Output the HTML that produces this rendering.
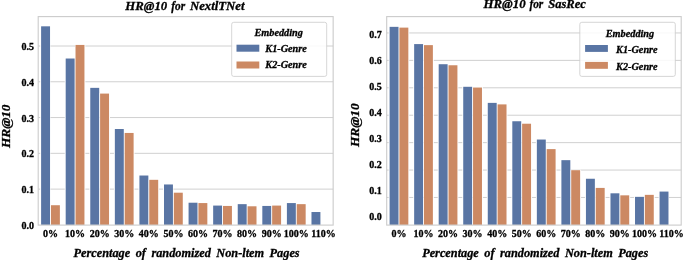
<!DOCTYPE html>
<html><head><meta charset="utf-8"><title>HR@10</title>
<style>
html,body{margin:0;padding:0;background:#fff;}
body{width:685px;height:260px;overflow:hidden;}
svg{display:block;}
text{font-family:"Liberation Serif",serif;font-weight:bold;fill:#000;stroke:#000;stroke-width:0.3px;}
.tk{font-size:10px;}
.ti{font-size:12.25px;font-style:italic;word-spacing:2.4px;}
.xl{font-size:12.3px;font-style:italic;word-spacing:2.4px;}
.lg{font-size:10.25px;font-style:italic;}
</style></head><body>
<svg width="685" height="260" viewBox="0 0 685 260">
<rect width="685" height="260" fill="#fff"/>
<line x1="38.2" x2="333.15" y1="189.12" y2="189.12" stroke="#cbcbcb" stroke-width="0.9"/>
<line x1="38.2" x2="333.15" y1="153.34" y2="153.34" stroke="#cbcbcb" stroke-width="0.9"/>
<line x1="38.2" x2="333.15" y1="117.56" y2="117.56" stroke="#cbcbcb" stroke-width="0.9"/>
<line x1="38.2" x2="333.15" y1="81.78" y2="81.78" stroke="#cbcbcb" stroke-width="0.9"/>
<line x1="38.2" x2="333.15" y1="46.00" y2="46.00" stroke="#cbcbcb" stroke-width="0.9"/>
<rect x="40.16" y="25.82" width="10.33" height="199.08" fill="#fff"/>
<rect x="41.11" y="26.32" width="8.93" height="198.58" fill="#5975a4"/>
<rect x="50.49" y="204.72" width="10.33" height="20.18" fill="#fff"/>
<rect x="50.94" y="205.22" width="8.93" height="19.68" fill="#cc8963"/>
<rect x="64.74" y="58.02" width="10.33" height="166.88" fill="#fff"/>
<rect x="65.69" y="58.52" width="8.93" height="166.38" fill="#5975a4"/>
<rect x="75.07" y="44.43" width="10.33" height="180.47" fill="#fff"/>
<rect x="75.52" y="44.93" width="8.93" height="179.97" fill="#cc8963"/>
<rect x="89.32" y="87.36" width="10.33" height="137.54" fill="#fff"/>
<rect x="90.27" y="87.86" width="8.93" height="137.04" fill="#5975a4"/>
<rect x="99.65" y="93.09" width="10.33" height="131.81" fill="#fff"/>
<rect x="100.10" y="93.59" width="8.93" height="131.31" fill="#cc8963"/>
<rect x="113.90" y="128.51" width="10.33" height="96.39" fill="#fff"/>
<rect x="114.85" y="129.01" width="8.93" height="95.89" fill="#5975a4"/>
<rect x="124.23" y="132.45" width="10.33" height="92.45" fill="#fff"/>
<rect x="124.68" y="132.95" width="8.93" height="91.95" fill="#cc8963"/>
<rect x="138.47" y="175.02" width="10.33" height="49.88" fill="#fff"/>
<rect x="139.42" y="175.52" width="8.93" height="49.38" fill="#5975a4"/>
<rect x="148.81" y="179.32" width="10.33" height="45.58" fill="#fff"/>
<rect x="149.26" y="179.82" width="8.93" height="45.08" fill="#cc8963"/>
<rect x="163.05" y="183.97" width="10.33" height="40.93" fill="#fff"/>
<rect x="164.00" y="184.47" width="8.93" height="40.43" fill="#5975a4"/>
<rect x="173.39" y="192.20" width="10.33" height="32.70" fill="#fff"/>
<rect x="173.84" y="192.70" width="8.93" height="32.20" fill="#cc8963"/>
<rect x="187.63" y="202.22" width="10.33" height="22.68" fill="#fff"/>
<rect x="188.58" y="202.72" width="8.93" height="22.18" fill="#5975a4"/>
<rect x="197.96" y="202.57" width="10.33" height="22.33" fill="#fff"/>
<rect x="198.41" y="203.07" width="8.93" height="21.83" fill="#cc8963"/>
<rect x="212.21" y="205.08" width="10.33" height="19.82" fill="#fff"/>
<rect x="213.16" y="205.58" width="8.93" height="19.32" fill="#5975a4"/>
<rect x="222.54" y="205.44" width="10.33" height="19.46" fill="#fff"/>
<rect x="222.99" y="205.94" width="8.93" height="18.96" fill="#cc8963"/>
<rect x="236.79" y="203.65" width="10.33" height="21.25" fill="#fff"/>
<rect x="237.74" y="204.15" width="8.93" height="20.75" fill="#5975a4"/>
<rect x="247.12" y="205.79" width="10.33" height="19.11" fill="#fff"/>
<rect x="247.57" y="206.29" width="8.93" height="18.61" fill="#cc8963"/>
<rect x="261.37" y="205.44" width="10.33" height="19.46" fill="#fff"/>
<rect x="262.32" y="205.94" width="8.93" height="18.96" fill="#5975a4"/>
<rect x="271.70" y="205.08" width="10.33" height="19.82" fill="#fff"/>
<rect x="272.15" y="205.58" width="8.93" height="19.32" fill="#cc8963"/>
<rect x="285.95" y="202.57" width="10.33" height="22.33" fill="#fff"/>
<rect x="286.90" y="203.07" width="8.93" height="21.83" fill="#5975a4"/>
<rect x="296.28" y="203.65" width="10.33" height="21.25" fill="#fff"/>
<rect x="296.73" y="204.15" width="8.93" height="20.75" fill="#cc8963"/>
<rect x="310.53" y="211.52" width="10.33" height="13.38" fill="#fff"/>
<rect x="311.48" y="212.02" width="8.93" height="12.88" fill="#5975a4"/>
<rect x="38.2" y="16.6" width="294.95" height="208.50" fill="none" stroke="#cbcbcb" stroke-width="1.1"/>
<text x="34.00" y="228.90" text-anchor="end" class="tk">0.0</text>
<text x="34.00" y="193.12" text-anchor="end" class="tk">0.1</text>
<text x="34.00" y="157.34" text-anchor="end" class="tk">0.2</text>
<text x="34.00" y="121.56" text-anchor="end" class="tk">0.3</text>
<text x="34.00" y="85.78" text-anchor="end" class="tk">0.4</text>
<text x="34.00" y="50.00" text-anchor="end" class="tk">0.5</text>
<text x="50.49" y="237" text-anchor="middle" class="tk">0%</text>
<text x="75.07" y="237" text-anchor="middle" class="tk">10%</text>
<text x="99.65" y="237" text-anchor="middle" class="tk">20%</text>
<text x="124.23" y="237" text-anchor="middle" class="tk">30%</text>
<text x="148.81" y="237" text-anchor="middle" class="tk">40%</text>
<text x="173.39" y="237" text-anchor="middle" class="tk">50%</text>
<text x="197.96" y="237" text-anchor="middle" class="tk">60%</text>
<text x="222.54" y="237" text-anchor="middle" class="tk">70%</text>
<text x="247.12" y="237" text-anchor="middle" class="tk">80%</text>
<text x="271.70" y="237" text-anchor="middle" class="tk">90%</text>
<text x="296.28" y="237" text-anchor="middle" class="tk">100%</text>
<text x="323.46" y="237" text-anchor="middle" class="tk">110%</text>
<text y="10.0" class="ti"><tspan x="125.3" textLength="41.9" lengthAdjust="spacingAndGlyphs">HR@10</tspan> <tspan x="171.3" textLength="13.9" lengthAdjust="spacingAndGlyphs">for</tspan> <tspan x="189.9" textLength="54.7" lengthAdjust="spacingAndGlyphs">NextlTNet</tspan></text>
<text x="186.6" y="256.8" text-anchor="middle" class="xl">Percentage of randomized Non-ltem Pages</text>
<text transform="translate(9.8,126.3) rotate(-90)" text-anchor="middle" class="xl" textLength="43.6" lengthAdjust="spacingAndGlyphs">HR@10</text>
<rect x="231.7" y="22.3" width="95.00" height="54.10" rx="2" fill="#fff" fill-opacity="0.85" stroke="#cbcbcb" stroke-width="0.8"/>
<text x="278.7" y="36.2" text-anchor="middle" class="lg">Embedding</text>
<rect x="236.5" y="44.7" width="22.80" height="7.00" fill="#5975a4"/>
<rect x="236.5" y="61.5" width="22.80" height="7.00" fill="#cc8963"/>
<text x="265.3" y="51.5" class="lg">K1-Genre</text>
<text x="265.3" y="68.2" class="lg">K2-Genre</text>
<line x1="386.7" x2="681.2" y1="197.48" y2="197.48" stroke="#cbcbcb" stroke-width="0.9"/>
<line x1="386.7" x2="681.2" y1="170.06" y2="170.06" stroke="#cbcbcb" stroke-width="0.9"/>
<line x1="386.7" x2="681.2" y1="142.64" y2="142.64" stroke="#cbcbcb" stroke-width="0.9"/>
<line x1="386.7" x2="681.2" y1="115.22" y2="115.22" stroke="#cbcbcb" stroke-width="0.9"/>
<line x1="386.7" x2="681.2" y1="87.80" y2="87.80" stroke="#cbcbcb" stroke-width="0.9"/>
<line x1="386.7" x2="681.2" y1="60.38" y2="60.38" stroke="#cbcbcb" stroke-width="0.9"/>
<line x1="386.7" x2="681.2" y1="32.96" y2="32.96" stroke="#cbcbcb" stroke-width="0.9"/>
<rect x="388.65" y="26.35" width="10.32" height="198.55" fill="#fff"/>
<rect x="389.60" y="26.85" width="8.92" height="198.05" fill="#5975a4"/>
<rect x="398.97" y="27.11" width="10.32" height="197.79" fill="#fff"/>
<rect x="399.42" y="27.61" width="8.92" height="197.29" fill="#cc8963"/>
<rect x="413.20" y="43.59" width="10.32" height="181.31" fill="#fff"/>
<rect x="414.15" y="44.09" width="8.92" height="180.81" fill="#5975a4"/>
<rect x="423.51" y="44.63" width="10.32" height="180.27" fill="#fff"/>
<rect x="423.96" y="45.13" width="8.92" height="179.77" fill="#cc8963"/>
<rect x="437.74" y="63.72" width="10.32" height="161.18" fill="#fff"/>
<rect x="438.69" y="64.22" width="8.92" height="160.68" fill="#5975a4"/>
<rect x="448.05" y="64.76" width="10.32" height="160.14" fill="#fff"/>
<rect x="448.50" y="65.26" width="8.92" height="159.64" fill="#cc8963"/>
<rect x="462.28" y="86.29" width="10.32" height="138.61" fill="#fff"/>
<rect x="463.23" y="86.79" width="8.92" height="138.11" fill="#5975a4"/>
<rect x="472.60" y="87.05" width="10.32" height="137.85" fill="#fff"/>
<rect x="473.05" y="87.55" width="8.92" height="137.35" fill="#cc8963"/>
<rect x="486.82" y="102.38" width="10.32" height="122.52" fill="#fff"/>
<rect x="487.77" y="102.88" width="8.92" height="122.02" fill="#5975a4"/>
<rect x="497.14" y="103.89" width="10.32" height="121.01" fill="#fff"/>
<rect x="497.59" y="104.39" width="8.92" height="120.51" fill="#cc8963"/>
<rect x="511.36" y="120.75" width="10.32" height="104.15" fill="#fff"/>
<rect x="512.31" y="121.25" width="8.92" height="103.65" fill="#5975a4"/>
<rect x="521.68" y="123.22" width="10.32" height="101.68" fill="#fff"/>
<rect x="522.13" y="123.72" width="8.92" height="101.18" fill="#cc8963"/>
<rect x="535.90" y="139.04" width="10.32" height="85.86" fill="#fff"/>
<rect x="536.85" y="139.54" width="8.92" height="85.36" fill="#5975a4"/>
<rect x="546.22" y="148.61" width="10.32" height="76.29" fill="#fff"/>
<rect x="546.67" y="149.11" width="8.92" height="75.79" fill="#cc8963"/>
<rect x="560.45" y="159.66" width="10.32" height="65.24" fill="#fff"/>
<rect x="561.40" y="160.16" width="8.92" height="64.74" fill="#5975a4"/>
<rect x="570.76" y="169.70" width="10.32" height="55.20" fill="#fff"/>
<rect x="571.21" y="170.20" width="8.92" height="54.70" fill="#cc8963"/>
<rect x="584.99" y="178.25" width="10.32" height="46.65" fill="#fff"/>
<rect x="585.94" y="178.75" width="8.92" height="46.15" fill="#5975a4"/>
<rect x="595.30" y="187.41" width="10.32" height="37.49" fill="#fff"/>
<rect x="595.75" y="187.91" width="8.92" height="36.99" fill="#cc8963"/>
<rect x="609.53" y="192.81" width="10.32" height="32.09" fill="#fff"/>
<rect x="610.48" y="193.31" width="8.92" height="31.59" fill="#5975a4"/>
<rect x="619.85" y="194.84" width="10.32" height="30.06" fill="#fff"/>
<rect x="620.30" y="195.34" width="8.92" height="29.56" fill="#cc8963"/>
<rect x="634.07" y="196.35" width="10.32" height="28.55" fill="#fff"/>
<rect x="635.02" y="196.85" width="8.92" height="28.05" fill="#5975a4"/>
<rect x="644.39" y="194.35" width="10.32" height="30.55" fill="#fff"/>
<rect x="644.84" y="194.85" width="8.92" height="30.05" fill="#cc8963"/>
<rect x="658.61" y="191.08" width="10.32" height="33.82" fill="#fff"/>
<rect x="659.56" y="191.58" width="8.92" height="33.32" fill="#5975a4"/>
<rect x="386.7" y="16.6" width="294.50" height="208.50" fill="none" stroke="#cbcbcb" stroke-width="1.1"/>
<text x="381.70" y="220.40" text-anchor="end" class="tk">0.0</text>
<text x="381.70" y="194.36" text-anchor="end" class="tk">0.1</text>
<text x="381.70" y="168.32" text-anchor="end" class="tk">0.2</text>
<text x="381.70" y="142.28" text-anchor="end" class="tk">0.3</text>
<text x="381.70" y="116.24" text-anchor="end" class="tk">0.4</text>
<text x="381.70" y="90.20" text-anchor="end" class="tk">0.5</text>
<text x="381.70" y="64.16" text-anchor="end" class="tk">0.6</text>
<text x="381.70" y="38.12" text-anchor="end" class="tk">0.7</text>
<text x="398.97" y="237" text-anchor="middle" class="tk">0%</text>
<text x="423.51" y="237" text-anchor="middle" class="tk">10%</text>
<text x="448.05" y="237" text-anchor="middle" class="tk">20%</text>
<text x="472.60" y="237" text-anchor="middle" class="tk">30%</text>
<text x="497.14" y="237" text-anchor="middle" class="tk">40%</text>
<text x="521.68" y="237" text-anchor="middle" class="tk">50%</text>
<text x="546.22" y="237" text-anchor="middle" class="tk">60%</text>
<text x="570.76" y="237" text-anchor="middle" class="tk">70%</text>
<text x="595.30" y="237" text-anchor="middle" class="tk">80%</text>
<text x="619.85" y="237" text-anchor="middle" class="tk">90%</text>
<text x="644.39" y="237" text-anchor="middle" class="tk">100%</text>
<text x="671.53" y="237" text-anchor="middle" class="tk">110%</text>
<text y="8.0" class="ti"><tspan x="483.4" textLength="42.2" lengthAdjust="spacingAndGlyphs">HR@10</tspan> <tspan x="529.4" textLength="13.9" lengthAdjust="spacingAndGlyphs">for</tspan> <tspan x="548.2" textLength="37.7" lengthAdjust="spacingAndGlyphs">SasRec</tspan></text>
<text x="535.2" y="256.8" text-anchor="middle" class="xl">Percentage of randomized Non-ltem Pages</text>
<text transform="translate(358.7,125.2) rotate(-90)" text-anchor="middle" class="xl" textLength="43.6" lengthAdjust="spacingAndGlyphs">HR@10</text>
<rect x="579.8" y="22.3" width="95.50" height="54.10" rx="2" fill="#fff" fill-opacity="0.85" stroke="#cbcbcb" stroke-width="0.8"/>
<text x="630" y="37.3" text-anchor="middle" class="lg">Embedding</text>
<rect x="585.1" y="45.0" width="22.80" height="6.90" fill="#5975a4"/>
<rect x="585.1" y="61.9" width="22.80" height="6.90" fill="#cc8963"/>
<text x="616.1" y="52.6" class="lg">K1-Genre</text>
<text x="616.1" y="70.0" class="lg">K2-Genre</text>
</svg>
</body></html>
